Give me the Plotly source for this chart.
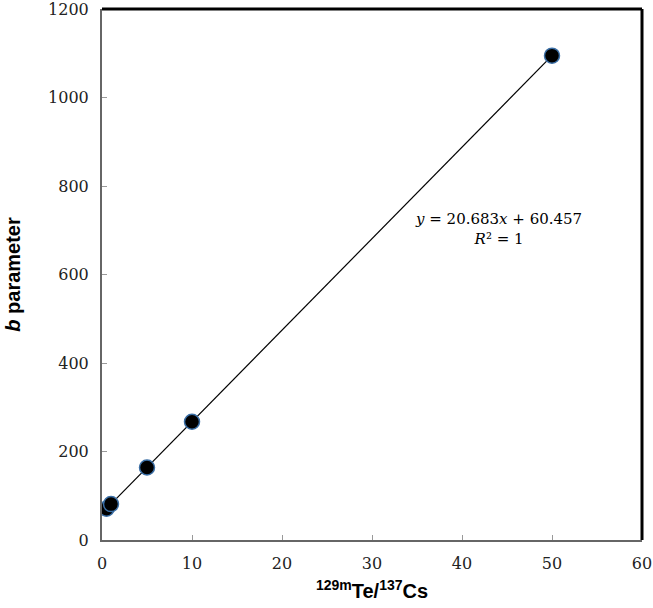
import numpy as np
import plotly.graph_objects as go

### data
ratio = [0.5, 1, 5, 10, 50]
b_param = [70.8, 81.1, 163.9, 267.3, 1094.6]
x_ticks = [0, 10, 20, 30, 40, 50, 60]
y_ticks = [0, 200, 400, 600, 800, 1000, 1200]

### linear fit
slope, intercept = np.polyfit(ratio, b_param, 1)
fit_x = np.array([min(ratio), max(ratio)])
fit_y = slope * fit_x + intercept

tick_font = dict(family="DejaVu Serif, serif", size=16, color='#222')
title_font = dict(family="Liberation Sans, Arial, sans-serif", size=20, color='black')

fig = go.Figure()
fig.add_trace(go.Scatter(x=fit_x, y=fit_y, mode='lines',
                         line=dict(color='black', width=1.2),
                         showlegend=False, hoverinfo='skip'))
fig.add_trace(go.Scatter(x=ratio, y=b_param, mode='markers',
                         marker=dict(color='black', size=15,
                                     line=dict(color='#3a6ea5', width=1.5)),
                         showlegend=False))

axis_common = dict(showgrid=False, zeroline=False, showline=True,
                   linecolor='#666', linewidth=2, ticks='inside',
                   ticklen=5, tickcolor='#999', tickwidth=1,
                   tickfont=tick_font, mirror=False, automargin=False,
                   ticklabeloverflow='allow')

fig.update_layout(
    width=653, height=608,
    margin=dict(l=102, r=11, t=9, b=68),
    plot_bgcolor='white', paper_bgcolor='white',
    xaxis=dict(range=[0, 60], tickvals=x_ticks, ticklabelstandoff=8,
               title=dict(text="<b><sup>129m</sup>Te/<sup>137</sup>Cs</b>",
                          font=title_font, standoff=12),
               **axis_common),
    yaxis=dict(range=[0, 1200], tickvals=y_ticks, ticklabelstandoff=8,
               title=dict(text="<b><i>b</i> parameter</b>",
                          font=title_font, standoff=22),
               **axis_common),
    shapes=[
        dict(type='line', xref='paper', yref='paper', x0=0, x1=1, y0=1, y1=1,
             line=dict(color='black', width=3)),
        dict(type='line', xref='paper', yref='paper', x0=1, x1=1, y0=0, y1=1,
             line=dict(color='black', width=3)),
    ],
    annotations=[
        dict(x=44.0, y=703, xref='x', yref='y', showarrow=False,
             text="<i>y</i> = 20.683<i>x</i> + 60.457<br><i>R</i>² = 1",
             font=dict(family="DejaVu Serif, serif", size=15, color='black'),
             align='center'),
    ],
)

fig.write_html("out.html", config={'displayModeBar': False},
               post_script="document.body.style.margin='0';")
